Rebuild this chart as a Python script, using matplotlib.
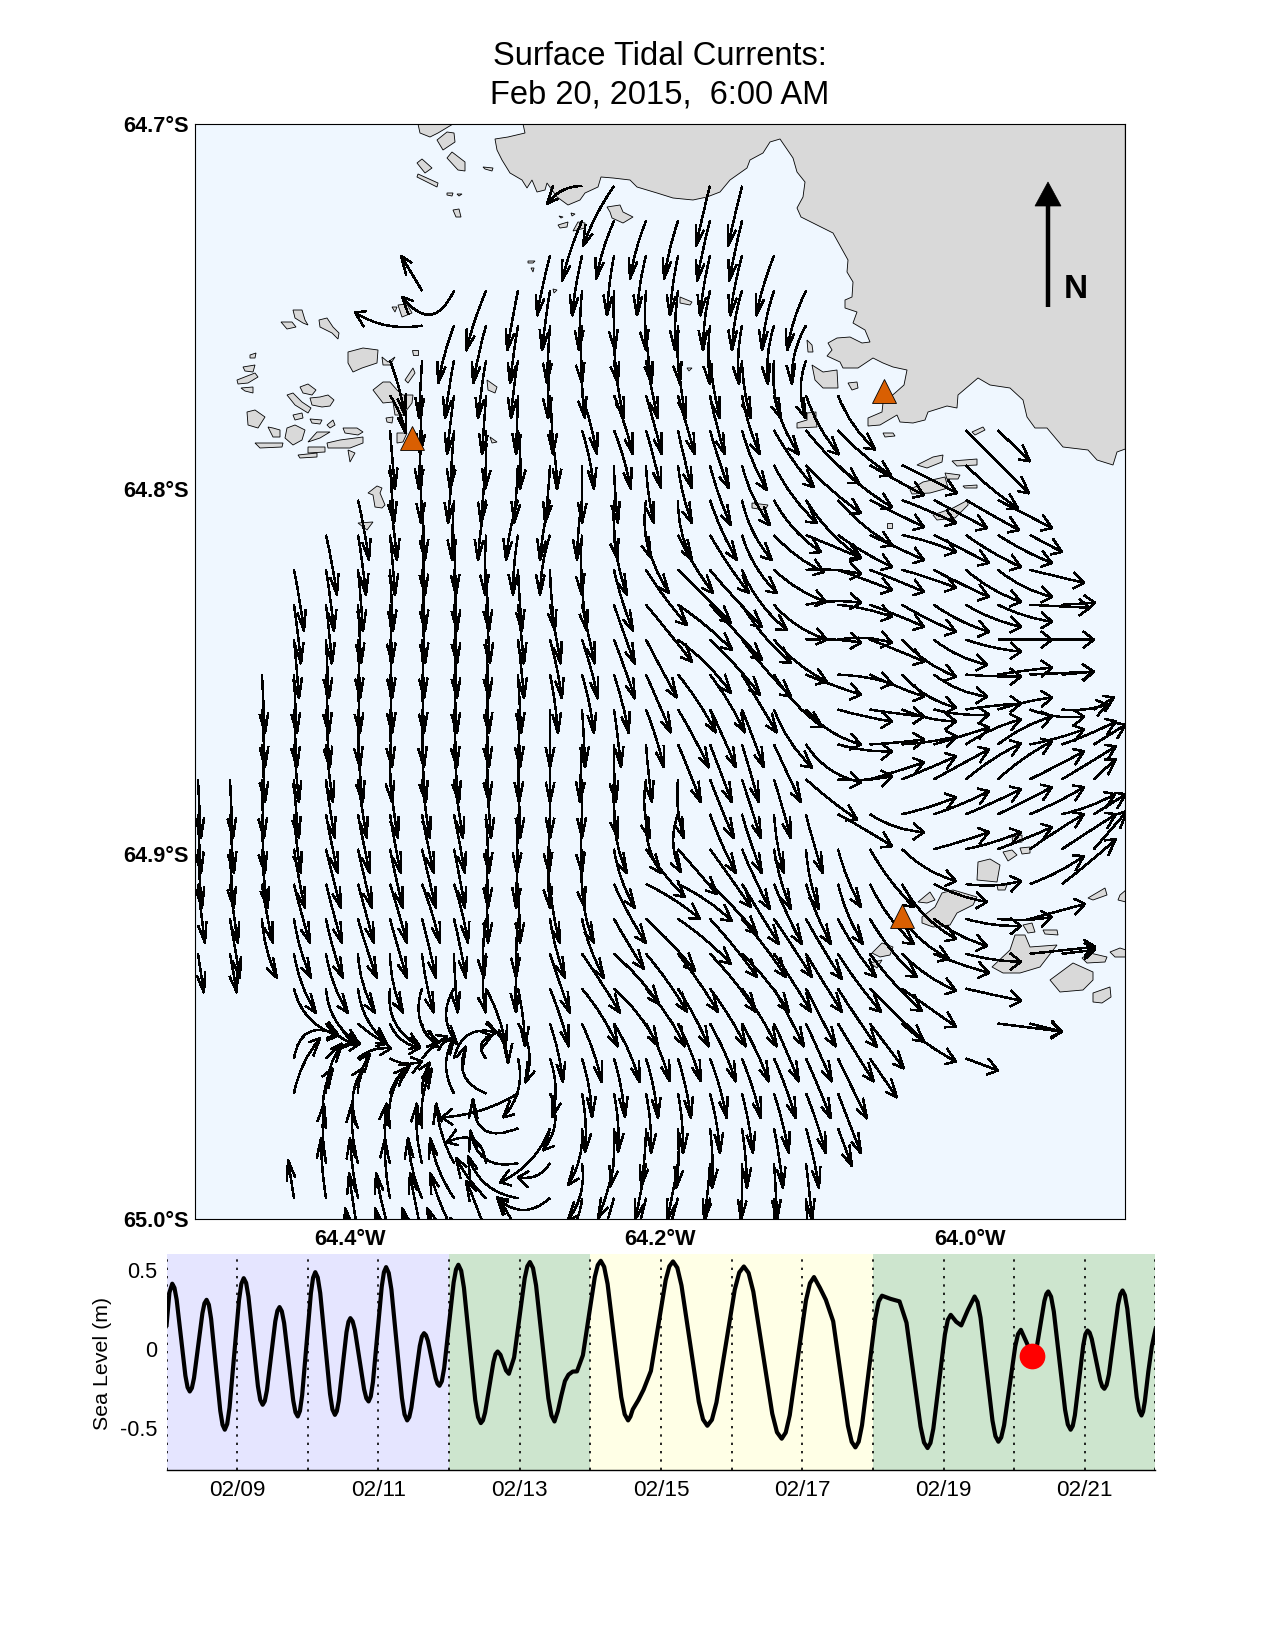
import math
import matplotlib
matplotlib.use("Agg")
import matplotlib.pyplot as plt
from matplotlib.path import Path
from matplotlib.patches import PathPatch, Polygon

plt.rcParams['font.family'] = ['Liberation Sans', 'DejaVu Sans']

W, H = 1276, 1652
TITLE = "Surface Tidal Currents:\nFeb 20, 2015,  6:00 AM"
LAT_TICKS = [-64.7, -64.8, -64.9, -65.0]
LAT_LABELS = ["64.7°S", "64.8°S", "64.9°S", "65.0°S"]
LON_TICKS = [-64.4, -64.2, -64.0]
LON_LABELS = ["64.4°W", "64.2°W", "64.0°W"]
LON_RANGE = (-64.5, -63.9)
LAT_RANGE = (-65.0, -64.7)

# map box in picture pixels
MAP_BOX = (195.3, 124.3, 1125.3, 1219.0)
SX = (MAP_BOX[2] - MAP_BOX[0]) / (LON_RANGE[1] - LON_RANGE[0])
SY = (MAP_BOX[3] - MAP_BOX[1]) / (LAT_RANGE[1] - LAT_RANGE[0])
def lon_of(x): return LON_RANGE[0] + (x - MAP_BOX[0]) / SX
def lat_of(y): return LAT_RANGE[1] - (y - MAP_BOX[1]) / SY

# current grid: tails
COL_X0, COL_DX = 198.0, 32.0
ROW_Y0, ROW_DY = 186.0, 34.9

# arrow vectors per grid row: column -> (east, south)
r00 = {12:(-35,18),13:(-31,60),16:(-14,60),17:(-14,60)}
r01 = {12:(-20,60),13:(-18,58),14:(-16,58),15:(-14,58),16:(-13,60),17:(-13,60)}
r02 = {11:(-13,60),12:(-10,60),13:(-7,60),14:(-9,60),15:(-8,60),16:(-10,60),17:(-12,60),18:(-18,60)}
r03 = {7:(-21,-35),8:(-52,6),9:(-20,60),10:(-11,60),11:(-8,60),12:(-3,60),13:(1,60),14:(0,60),15:(-3,60),16:(-7,60),17:(-10,60),18:(-12,60),19:(-19,60)}
r04 = {7:(-67,-13),8:(-16,58),9:(-13,58),10:(-8,58),11:(-3,58),12:(0,58),13:(4,58),14:(6,58),15:(2,58),16:(0,59),17:(-3,59),18:(-6,59),19:(-14,59)}
r05 = {6:(15,55),7:(-3,58),8:(-9,58),9:(-8,58),10:(-7,58),11:(-2,58),12:(3,58),13:(10,58),14:(12,58),15:(8,58),16:(10,58),17:(9,58),18:(7,58),19:(0,58)}
r06 = {6:(16,38),7:(-2,59),8:(-7,59),9:(-4,59),10:(-2,59),11:(3,59),12:(15,59),13:(19,59),14:(16,59),15:(17,59),16:(15,59),17:(18,59),18:(25,59),19:(33,59),20:(37,54)}
r07 = {6:(5,59),7:(-3,59),8:(-4,59),9:(-1,59),10:(2,59),11:(7,59),12:(12,59),13:(17,59),14:(15,58),15:(14,58),16:(19,58),17:(25,60),18:(40,57),19:(53,53),20:(53,45),24:(63,63),25:(32,31)}
r08 = {6:(4,58),7:(-1,58),8:(-6,58),9:(-5,58),10:(-4,58),11:(-5,58),12:(0,58),13:(4,58),14:(8,58),15:(14,58),16:(21,60),17:(28,60),18:(43,58),19:(55,48),20:(54,42),21:(54,30),22:(55,28),24:(52,43)}
r09 = {5:(11,60),6:(7,60),7:(3,60),8:(-2,60),9:(-8,60),10:(-12,60),11:(-10,60),12:(-5,60),13:(4,60),14:(5,58),15:(14,60),16:(27,60),17:(30,60),18:(47,52),19:(55,58),20:(54,45),21:(54,27),22:(54,23),23:(53,28),24:(53,30),25:(54,28)}
r10 = {4:(11,60),5:(8,60),6:(5,60),7:(3,60),8:(2,60),9:(-1,60),10:(-5,60),11:(-10,60),12:(0,60),13:(13,60),14:(23,58),15:(35,58),16:(39,58),17:(35,58),18:(50,37),19:(55,23),20:(54,32),21:(54,25),22:(54,17),23:(55,28),24:(55,32),25:(54,28),26:(32,17)}
r11 = {3:(10,61),4:(8,61),5:(5,61),6:(3,61),7:(3,61),8:(3,61),9:(3,61),10:(4,61),11:(5,61),12:(5,61),13:(19,61),14:(41,55),15:(53,53),16:(52,57),17:(45,60),18:(52,32),19:(55,4),20:(54,20),21:(54,22),22:(54,18),23:(55,27),24:(55,32),25:(54,27),26:(54,13)}
r12 = {3:(7,59),4:(6,59),5:(3,59),6:(2,59),7:(3,59),8:(3,59),9:(4,59),10:(6,59),11:(11,59),12:(13,59),13:(21,59),14:(46,57),15:(54,45),16:(52,55),17:(49,58),18:(53,35),19:(55,-2),20:(54,12),21:(54,22),22:(54,27),23:(55,27),24:(55,22),25:(54,17),26:(60,3),27:(33,-2)}
r13 = {3:(5,59),4:(3,59),5:(2,59),6:(2,59),7:(2,59),8:(3,59),9:(3,59),10:(6,59),11:(12,59),12:(16,59),13:(21,59),14:(31,58),15:(53,53),16:(50,55),17:(49,57),18:(53,42),19:(55,3),20:(54,3),21:(54,22),22:(54,37),23:(53,25),24:(55,12),25:(54,0),26:(64,0),27:(32,0)}
r14 = {2:(3,59),3:(3,59),4:(3,59),5:(2,59),6:(2,59),7:(2,59),8:(3,59),9:(3,59),10:(3,59),11:(8,59),12:(12,59),13:(15,59),14:(25,58),15:(38,58),16:(35,58),17:(35,58),18:(48,52),19:(55,20),20:(54,9),21:(54,22),22:(54,33),23:(53,22),24:(55,2),25:(54,-7),26:(63,-3),27:(32,-3)}
r15 = {2:(3,58),3:(3,58),4:(4,58),5:(2,58),6:(2,58),7:(2,58),8:(3,58),9:(3,58),10:(2,58),11:(0,58),12:(3,58),13:(7,58),14:(18,58),15:(31,58),16:(26,58),17:(22,58),18:(38,58),19:(55,35),20:(54,12),21:(54,7),22:(54,12),23:(55,5),24:(55,-6),25:(54,-12),26:(54,7),27:(45,-5),28:(20,-12)}
r16 = {2:(3,58),3:(5,58),4:(7,58),5:(5,58),6:(2,58),7:(4,58),8:(5,58),9:(3,58),10:(1,58),11:(0,58),12:(-2,58),13:(2,58),14:(6,58),15:(23,58),16:(22,58),17:(17,58),18:(27,58),19:(55,38),20:(54,7),21:(54,-5),22:(55,-8),23:(55,-17),24:(55,-25),25:(54,-28),26:(54,-15),27:(54,-23),28:(32,-20)}
r17 = {0:(3,59),1:(3,59),2:(2,59),3:(5,59),4:(9,59),5:(9,59),6:(8,59),7:(8,59),8:(9,59),9:(5,59),10:(2,59),11:(0,59),12:(0,59),13:(4,59),14:(4,59),15:(6,59),16:(24,59),17:(19,59),18:(17,59),19:(51,40),20:(54,-3),21:(54,-17),22:(54,-23),23:(55,-30),24:(55,-36),25:(54,-38),26:(54,-28),27:(54,-33),28:(22,-20)}
r18 = {0:(3,59),1:(4,59),2:(3,59),3:(7,59),4:(12,59),5:(12,59),6:(11,59),7:(12,59),8:(11,59),9:(3,59),10:(-1,59),11:(-1,59),12:(0,59),13:(13,59),14:(15,59),15:(3,58),16:(26,59),17:(20,59),18:(10,59),19:(17,59),20:(54,32),21:(54,18),22:(54,-17),23:(55,-23),24:(55,-25),25:(54,-27),26:(54,-27),27:(53,-20),28:(32,-20)}
r19 = {0:(4,59),1:(4,59),2:(6,59),3:(11,59),4:(15,59),5:(14,59),6:(13,59),7:(14,59),8:(11,59),9:(2,59),10:(-2,59),11:(0,59),12:(3,59),13:(21,59),14:(39,48),15:(39,45),16:(41,58),17:(28,60),18:(17,60),19:(13,60),20:(23,58),21:(44,58),22:(54,32),23:(55,-17),24:(55,-17),25:(54,-22),26:(54,-35),27:(54,-35),28:(33,-38)}
r20 = {0:(7,59),1:(8,59),2:(11,59),3:(16,59),4:(16,59),5:(16,59),6:(17,59),7:(18,59),8:(14,59),9:(2,59),10:(2,59),11:(10,59),12:(12,59),13:(32,59),14:(54,35),15:(54,37),16:(47,50),17:(37,60),18:(28,60),19:(25,60),20:(25,60),21:(44,60),22:(54,55),23:(53,18),24:(55,-3),26:(54,-28),27:(54,-45)}
r21 = {1:(10,59),2:(15,59),3:(17,59),4:(17,59),5:(19,59),6:(17,59),7:(14,59),8:(12,59),9:(-2,59),10:(-2,59),11:(15,59),12:(22,59),13:(30,50),14:(49,52),15:(53,45),16:(47,58),17:(44,58),18:(38,58),19:(36,60),20:(38,58),21:(47,58),22:(47,40),23:(53,27),24:(55,7),25:(54,-2),26:(55,-15)}
r22 = {0:(6,39),1:(7,39),3:(22,59),4:(22,59),5:(17,59),6:(13,59),7:(12,59),8:(4,59),9:(0,59),10:(-2,59),11:(20,59),12:(38,59),13:(45,50),14:(41,58),15:(40,58),16:(46,58),17:(47,58),18:(37,58),19:(36,58),20:(43,58),21:(52,57),22:(54,37),23:(55,19),24:(55,8),26:(65,-7),27:(33,-4)}
r23 = {3:(44,47),4:(33,55),5:(29,55),6:(30,58),7:(16,58),8:(3,55),9:(20,58),10:(7,58),11:(19,58),12:(36,58),13:(44,57),14:(39,58),15:(31,58),16:(36,58),17:(35,58),18:(30,58),19:(30,58),20:(39,58),21:(54,53),22:(54,38),24:(55,12)}
r24 = {4:(27,20),5:(29,20),6:(30,24),7:(16,18),9:(22,40),10:(7,59),11:(13,59),12:(20,59),13:(26,59),14:(24,58),15:(23,58),16:(26,58),17:(27,58),18:(25,58),19:(26,58),20:(36,58),21:(34,45),22:(54,38),25:(64,8),26:(32,8)}
r25 = {3:(44,-24),4:(34,-15),5:(33,-10),6:(32,3),7:(25,-22),8:(43,-26),9:(6,-23),10:(-15,59),11:(2,59),12:(10,59),13:(11,59),14:(12,60),15:(13,60),16:(17,60),17:(19,60),18:(22,60),19:(25,60),20:(29,60),21:(27,39),24:(32,12)}
r26 = {3:(26,-55),4:(16,-50),5:(12,-40),6:(20,-28),7:(8,-31),8:(1,-58),9:(-20,-47),10:(-76,24),11:(-7,57),12:(3,59),13:(4,59),14:(5,60),15:(5,60),16:(10,60),17:(11,60),18:(15,60),19:(20,60),20:(23,60)}
r27 = {4:(7,-60),5:(5,-60),6:(15,-60),7:(10,-60),10:(-45,-30),11:(-50,54),12:(-14,57),13:(-4,59),14:(-5,58),15:(-2,60),16:(2,60),17:(5,60),18:(9,60),19:(13,60),20:(14,38)}
r28 = {4:(-2,-60),5:(-6,-60),6:(-3,-60),7:(-5,-60),8:(-18,-60),9:(-39,-21),10:(-48,-33),11:(-32,14),12:(-14,57),13:(-16,55),14:(-11,57),15:(-11,57),16:(-6,57),17:(-1,57),18:(3,57),19:(6,57)}
r29 = {3:(-6,-38),4:(-5,-60),5:(-8,-60),6:(-5,-60),7:(-14,-60),8:(-24,-60),9:(-30,-40),10:(-50,-42),11:(-53,0),12:(-40,50),13:(-16,55),14:(-12,50),15:(-14,50),16:(-10,50),17:(-5,50),18:(0,50),19:(3,50)}
r30 = {5:(-9,-60),6:(-14,-60),7:(-12,-60),8:(-24,-60),9:(-20,-52),10:(-21,-36)}
r31 = {5:(-13,-60),6:(-15,-60),7:(-20,-60),8:(-27,-60),9:(-36,-50),10:(-40,-40)}
FIELD = [r00,r01,r02,r03,r04,r05,r06,r07,r08,r09,r10,r11,r12,r13,r14,r15,r16,r17,r18,r19,r20,r21,r22,r23,r24,r25,r26,r27,r28,r29,r30,r31]

# hand-read bends where the flow turns sharply: (row, col) -> sideways offset
BEND = {(0,12):10,(3,8):-42,(4,7):-13,(23,3):18,(24,4):5,(25,3):-32,(25,4):-10,(25,5):-8,
        (25,8):-26,(25,9):-16,(25,10):-16,(26,3):-8,(26,4):-8,(26,5):-6,(26,6):-6,(26,9):-26,
        (26,10):-10,(27,10):-40,(27,11):-15,(28,9):30,(28,10):-30,(28,11):-12,(29,10):-20,(29,11):-24}

# sea level record: days after 02/08 and metres
SEA_T = [0,.04,.08,.142,.204,.266,.328,.388,.447,.507,.566,.63,.695,.76,.824,.891,.958,1.025,1.092,1.159,1.226,1.293,1.36,1.42,1.48,1.539,1.599,1.664,1.728,1.793,1.857,1.919,1.981,2.043,2.105,2.175,2.244,2.314,2.383,2.438,2.492,2.547,2.602,2.667,2.731,2.796,2.86,2.922,2.984,3.046,3.108,3.183,3.257,3.332,3.406,3.466,3.526,3.585,3.645,3.7,3.754,3.809,3.863,3.93,3.997,4.064,4.131,4.21,4.29,4.37,4.449,4.509,4.568,4.628,4.687,4.727,4.767,4.806,4.846,4.92,4.995,5.07,5.144,5.231,5.318,5.405,5.492,5.54,5.59,5.64,5.69,5.75,5.81,5.894,5.978,6.063,6.147,6.244,6.34,6.437,6.534,6.6,6.68,6.753,6.857,6.962,7.066,7.17,7.29,7.413,7.535,7.656,7.785,7.915,8.044,8.173,8.307,8.441,8.575,8.709,8.823,8.938,9.052,9.166,9.25,9.334,9.438,9.543,9.647,9.752,9.846,9.94,10.035,10.129,10.25,10.377,10.476,10.576,10.675,10.774,10.856,10.938,11.02,11.102,11.18,11.251,11.345,11.44,11.524,11.609,11.693,11.777,11.857,11.936,12.016,12.095,12.18,12.264,12.319,12.374,12.428,12.483,12.562,12.642,12.721,12.8,12.86,12.92,12.979,13.039,13.099,13.158,13.218,13.277,13.342,13.406,13.471,13.535,13.602,13.669,13.736,13.803,13.85,13.9,13.95,14]
SEA_M = [.156,.36,.416,.316,.075,-.166,-.266,-.181,.024,.229,.314,.194,-.097,-.388,-.508,-.368,-.028,.311,.451,.334,.05,-.233,-.35,-.26,-.041,.178,.268,.167,-.078,-.323,-.424,-.291,.032,.356,.489,.357,.037,-.282,-.414,-.325,-.108,.109,.198,.121,-.066,-.252,-.329,-.205,.096,.397,.521,.379,.036,-.307,-.449,-.368,-.173,.022,.103,.054,-.064,-.181,-.23,-.118,.153,.424,.536,.39,.035,-.32,-.466,-.4,-.24,-.079,-.013,-.034,-.084,-.133,-.154,-.051,.2,.45,.553,.406,.049,-.309,-.456,-.39,-.29,-.2,-.16,-.14,-.139,-.037,.211,.459,.561,.414,.056,-.301,-.449,-.38,-.32,-.255,-.136,.151,.438,.557,.405,.037,-.331,-.483,-.336,.021,.378,.525,.366,-.02,-.406,-.565,-.416,-.054,.309,.458,.39,.314,.178,-.153,-.484,-.62,-.48,-.14,.2,.34,.32,.304,.169,-.16,-.488,-.624,-.501,-.203,.096,.219,.175,.152,.25,.335,.201,-.125,-.45,-.584,-.481,-.23,.021,.124,.04,-.05,.011,.158,.306,.367,.239,-.07,-.381,-.508,-.416,-.194,.028,.12,.066,-.065,-.195,-.249,-.158,.062,.282,.373,.258,-.023,-.303,-.418,-.33,-.14,.02,.124]
# further readings around each crest and trough
CREST_T = [.111,.297,.358,.536,.598,.792,.858,1.058,1.126,1.326,1.39,1.569,1.631,1.825,1.888,2.074,2.14,2.348,2.41,2.575,2.634,2.828,2.891,3.077,3.145,3.369,3.436,3.615,3.672,3.836,3.897,4.098,4.171,4.409,4.479,4.657,5.107,5.188,5.449,6.105,6.195,6.486,6.567,7.118,7.231,7.595,7.721,8.108,8.24,8.642,8.766,9.109,9.7,9.799,10.082,10.724,10.815,11.061,11.482,11.735,11.817,12.055,12.456,12.523,12.76,12.83,13.009,13.069,13.248,13.309,13.503,13.568,13.77,13.826]
CREST_M = [.39,-.24,-.244,.292,.283,-.477,-.472,.415,.421,-.32,-.327,.245,.242,-.398,-.389,.454,.455,-.38,-.391,.175,.178,-.309,-.297,.489,.484,-.412,-.428,.082,.09,-.217,-.201,.507,.498,-.428,-.449,-.03,.526,.515,-.418,.534,.523,-.411,-.425,.526,.517,-.443,-.445,.487,.484,-.524,-.526,.419,-.585,-.584,.304,-.589,-.592,.187,.3,-.549,-.557,.097,.351,.334,-.475,-.484,.096,.106,-.235,-.225,.349,.343,-.388,-.393]
NOW_T, NOW_M = 12.25, -0.044
DAY_TICKS = [1,3,5,7,9,11,13]
DAY_LABELS = ["02/09","02/11","02/13","02/15","02/17","02/19","02/21"]
BAND_EDGES = [0,4,6,10,14]
BAND_COLORS = ["#E5E5FF","#CDE5CE","#FFFFE6","#CDE5CE"]
SEA_TICKS = [-0.5,0,0.5]
SEA_LABELS = ["-0.5","0","0.5"]
SITE_LON = [-64.3604,-64.0555,-64.0443]
SITE_LAT = [-64.786,-64.773,-64.917]

# land outlines in picture pixels
MAINLAND = [(523,124),(525,133),(508,137),(495,139),(497,150),(502,160),(510,173),(522,180),(527,188),(532,180),(537,192),(545,190),(547,183),(557,197),(568,205),(580,200),(585,193),(598,187),(601,177),(613,178),(630,180),(637,187),(657,193),(673,198),(693,200),(707,197),(720,192),(730,180),(747,168),(750,160),(763,153),(770,142),(780,139),(793,158),(797,172),(805,182),(803,197),(797,208),(801,217),(817,225),(833,233),(848,260),(847,272),(853,282),(852,297),(845,300),(845,308),(857,312),(853,323),(865,330),(870,342),(862,343),(850,337),(837,338),(828,343),(832,350),(827,356),(840,362),(843,368),(858,368),(873,358),(883,363),(893,367),(907,370),(904,385),(895,393),(883,403),(882,412),(868,418),(868,426),(880,425),(897,415),(900,422),(913,423),(925,420),(928,412),(947,406),(957,408),(958,395),(978,378),(990,385),(1010,388),(1023,400),(1027,417),(1035,428),(1047,428),(1063,447),(1088,450),(1097,460),(1113,465),(1117,452),(1125.3,449),(1125.3,124)]
ISLANDS = [
[(418,124),(420,133),(430,137),(438,133),(453,124)],[(437,140),(447,132),(454,133),(455,142),(443,150)],[(447,158),(452,152),(465,162),(465,171),(458,170)],[(417,163),(422,159),(432,168),(425,173)],[(418,174),(438,183),(437,187),(417,177)],[(483,167),(493,168),(492,171),(485,169)],[(447,193),(453,193),(452,196),(447,195)],[(457,194),(462,194),(459,196)],[(453,210),(459,209),(461,217),(456,217)],[(607,207),(620,205),(623,212),(633,217),(623,223),(612,218),(610,212)],[(558,225),(568,222),(567,227),(560,228)],[(559,216),(563,217),(561,218)],[(571,213),(575,214),(572,216)],[(578,222),(585,223),(585,228),(573,231)],[(528,261),(535,261),(533,263),(528,263)],[(531,268),(534,268),(533,272)],[(553,289),(557,290),(554,293)],
[(293,310),(302,310),(305,320),(308,325),(303,323),(295,318)],[(281,322),(292,322),(296,327),(287,329)],[(319,320),(327,318),(333,327),(339,333),(338,339),(332,333),(320,327)],[(392,307),(397,307),(395,312)],[(398,305),(407,304),(412,313),(402,317)],[(412,350),(418,350),(418,355),(413,355)],[(348,352),(363,348),(378,350),(377,363),(362,368),(353,372),(348,363)],[(382,357),(388,362),(395,357),(390,365),(383,365)],[(405,380),(413,368),(415,373),(408,383)],[(373,390),(383,382),(390,382),(397,390),(403,395),(413,395),(412,403),(403,415),(395,415),(393,402),(383,403)],[(386,418),(393,417),(392,423),(387,422)],[(397,433),(407,433),(403,442),(397,443)],[(250,355),(256,353),(255,358),(250,358)],[(243,367),(255,365),(253,372),(245,371)],[(237,380),(255,373),(258,377),(248,383),(238,384)],[(241,388),(253,387),(253,393),(245,391)],[(300,387),(308,384),(316,390),(312,395),(303,393)],[(287,395),(293,393),(302,402),(311,408),(308,413),(295,405)],[(310,398),(320,397),(328,395),(334,400),(330,406),(322,407),(312,405)],[(293,415),(302,413),(303,418),(295,420)],[(247,412),(255,410),(265,417),(258,428),(248,425)],[(268,427),(273,428),(280,430),(280,437),(273,437)],[(255,443),(283,443),(282,447),(260,448)],[(287,428),(295,425),(305,430),(302,440),(293,445),(285,438)],[(308,442),(317,432),(330,432),(320,438)],[(310,419),(322,420),(320,424),(312,423)],[(327,425),(333,420),(335,425),(330,428)],[(343,428),(357,428),(363,432),(358,435),(345,433)],[(327,443),(340,440),(363,437),(363,443),(350,448),(328,448)],[(308,447),(325,447),(325,452),(308,453)],[(298,455),(317,453),(317,457),(300,458)],[(348,450),(355,453),(350,462)],[(358,523),(373,522),(367,530)],[(368,493),(377,486),(382,488),(380,493),(385,505),(382,508),(375,507),(373,495)],[(487,380),(497,387),(495,393),(488,390)],[(490,437),(497,442),(492,443)],
[(680,297),(692,302),(690,305),(680,303)],[(807,340),(812,345),(813,352),(808,352)],[(812,365),(823,372),(837,370),(838,388),(823,388),(815,380)],[(848,383),(857,382),(858,388),(852,390)],[(687,368),(692,368),(689,371)],[(807,413),(816,412),(816,420),(817,427),(797,428),(797,423),(807,420)],[(883,433),(893,433),(895,436),(885,437)],[(972,432),(983,427),(985,430),(975,435)],[(917,465),(933,457),(943,455),(942,462),(927,468)],[(952,461),(977,459),(977,465),(957,466)],
[(910,490),(923,482),(945,477),(948,488),(930,493),(912,494)],[(945,473),(960,475),(958,479),(947,479)],[(963,486),(977,485),(977,488),(965,488)],[(752,503),(768,505),(765,510),(752,508)],[(933,515),(953,508),(968,500),(968,505),(955,518),(937,520)],[(887,523),(892,523),(892,528),(887,528)],
[(918,902),(930,892),(935,900),(927,903)],[(935,907),(942,893),(953,890),(977,897),(973,905),(957,913),(950,925),(933,927),(922,923),(922,917)],[(977,880),(978,862),(990,859),(1000,865),(997,882)],[(1003,852),(1012,850),(1017,855),(1008,861)],[(1020,848),(1030,847),(1030,853),(1022,854)],[(1012,837),(1022,835),(1022,842),(1013,843)],[(997,885),(1007,885),(1005,890),(998,890)],[(1088,898),(1105,888),(1107,895),(1093,900)],[(1120,895),(1126,890),(1126,902),(1118,900)],[(1023,925),(1032,923),(1035,932),(1028,933)],[(1043,930),(1057,930),(1058,935),(1045,934)],[(992,967),(1010,950),(1015,935),(1025,935),(1030,947),(1057,945),(1040,967),(1020,973),(1003,973)],[(1082,958),(1090,953),(1107,957),(1105,962),(1087,963)],[(1110,952),(1120,948),(1126,950),(1126,957),(1115,957)],[(1050,980),(1073,963),(1093,972),(1093,980),(1083,990),(1060,992)],[(1093,993),(1110,987),(1111,997),(1102,1003),(1093,1002)],[(872,953),(882,943),(893,947),(890,955),(880,957)],[(870,963),(882,960),(877,968)],
]

fig = plt.figure(figsize=(W/100, H/100), dpi=100, facecolor="white")
def box_axes(x0, y0, x1, y1):
    return fig.add_axes([x0/W, 1-y1/H, (x1-x0)/W, (y1-y0)/H])

ax = box_axes(*MAP_BOX)
ax.set_xlim(*LON_RANGE); ax.set_ylim(*LAT_RANGE)
ax.set_facecolor("#EFF7FF")
for s in ax.spines.values():
    s.set_linewidth(0.8)
ax.set_xticks(LON_TICKS, LON_LABELS, fontweight="bold", fontsize=15.7)
ax.set_yticks(LAT_TICKS, LAT_LABELS, fontweight="bold", fontsize=15.7)
ax.tick_params(length=0)
ax.tick_params(axis="x", pad=7)
ax.tick_params(axis="y", pad=4.5)

def geo(pts):
    return [(lon_of(x), lat_of(y)) for x, y in pts]

ax.add_patch(Polygon(geo(MAINLAND), closed=True, fc="#D9D9D9", ec="black", lw=0.6, zorder=1))
for isl in ISLANDS:
    ax.add_patch(Polygon(geo(isl), closed=True, fc="#D9D9D9", ec="black", lw=0.6, zorder=1))

def field_at(col, row):
    c0, r0 = int(math.floor(col)), int(math.floor(row))
    su, sv, sw = 0.0, 0.0, 0.0
    for r, wr in ((r0, 1-(row-r0)), (r0+1, row-r0)):
        if 0 <= r < len(FIELD):
            for c, wc in ((c0, 1-(col-c0)), (c0+1, col-c0)):
                if c in FIELD[r]:
                    w = wr*wc
                    su += w*FIELD[r][c][0]; sv += w*FIELD[r][c][1]; sw += w
    if sw < 0.25:
        return None
    return su/sw, sv/sw

BARB_LEN, BARB_ANG, BARB_STRETCH = 11.5, math.radians(22), 1.9
verts, codes = [], []
for row, vals in enumerate(FIELD):
    for col, (u, v) in vals.items():
        x0 = COL_X0 + COL_DX*col
        y0 = ROW_Y0 + ROW_DY*row
        x1, y1 = x0+u, y0+v
        L = math.hypot(u, v)
        if (row, col) in BEND:
            b = BEND[(row, col)]
        else:
            f = field_at((x1-COL_X0)/COL_DX, (y1-ROW_Y0)/ROW_DY)
            b = 0.0
            if f is not None:
                a = math.atan2(f[1], f[0]) - math.atan2(v, u)
                a = (a + math.pi) % (2*math.pi) - math.pi
                a = max(-1.2, min(1.2, a))
                b = -(L/2)*math.tan(a/2)
        nx, ny = -v/L, u/L
        cx, cy = (x0+x1)/2 + b*nx, (y0+y1)/2 + b*ny
        tx, ty = x1-cx, y1-cy
        ang = math.atan2(ty/BARB_STRETCH, tx)
        bars = []
        for s in (-1, 1):
            ca = ang + s*BARB_ANG
            bars.append((x1 - BARB_LEN*math.cos(ca), y1 - BARB_LEN*math.sin(ca)*BARB_STRETCH))
        verts += geo([(x0,y0),(cx,cy),(x1,y1),bars[0],(x1,y1),bars[1]])
        codes += [Path.MOVETO,Path.CURVE3,Path.CURVE3,Path.MOVETO,Path.LINETO,Path.LINETO]
ax.add_patch(PathPatch(Path(verts, codes), fc="none", ec="black", lw=1.05, zorder=3,
                       capstyle="butt", joinstyle="miter", antialiased=False))

ax.plot(SITE_LON, SITE_LAT, ls="none", marker="^", ms=17.5, mfc="#D95F02", mec="black", mew=0.6, zorder=4)

# north arrow
ax.plot([lon_of(1048)]*2, [lat_of(307), lat_of(200)], color="black", lw=3.2, solid_capstyle="butt", zorder=4)
ax.add_patch(Polygon(geo([(1048,182),(1035,206),(1061,206)]), closed=True, fc="black", ec="black", lw=0.5, zorder=4))
ax.text(lon_of(1076), lat_of(290), "N", fontweight="bold", fontsize=24, ha="center", va="center", zorder=4)

fig.text(660/W, 1-75.7/H, TITLE, ha="center", va="center", fontsize=23.5, linespacing=1.31)

ts = box_axes(166.6, 1254, 1155.4, 1470)
ts.set_xlim(0, 14); ts.set_ylim(-0.763, 0.604)
for k in range(len(BAND_COLORS)):
    ts.axvspan(BAND_EDGES[k], BAND_EDGES[k+1], color=BAND_COLORS[k], lw=0, zorder=0)
ts.vlines(range(15), -0.763, 0.604, color="black", lw=1.2, linestyles=(0, (1.4, 3.6)), zorder=1)
sea = sorted(zip(SEA_T + CREST_T, SEA_M + CREST_M))
ts.plot([p[0] for p in sea], [p[1] for p in sea], color="black", lw=3.0, zorder=2, solid_joinstyle="round")
ts.plot([NOW_T], [NOW_M], ls="none", marker="o", ms=17.5, mfc="#FF0000", mec="#FF0000", zorder=3)
for s in ("top", "left", "right"):
    ts.spines[s].set_visible(False)
ts.spines["bottom"].set_linewidth(1.0)
ts.set_xticks(DAY_TICKS, DAY_LABELS, fontsize=16.2)
ts.set_yticks(SEA_TICKS, SEA_LABELS, fontsize=15.6)
ts.tick_params(length=0)
ts.tick_params(axis="x", pad=7)
ts.tick_params(axis="y", pad=7)
fig.text(102/W, 1-1363/H, "Sea Level (m)", rotation=90, ha="center", va="center", fontsize=15.4)

fig.savefig("out.png", dpi=100)
